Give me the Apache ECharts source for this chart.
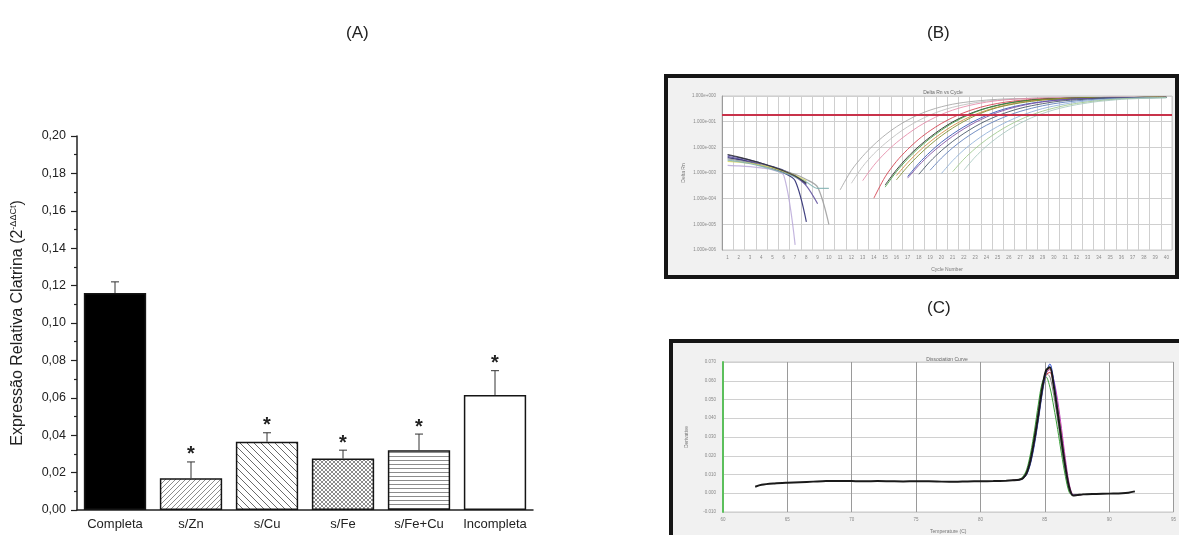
<!DOCTYPE html>
<html>
<head>
<meta charset="utf-8">
<title>Expressão Relativa Clatrina</title>
<script src="https://cdn.jsdelivr.net/npm/echarts@6/dist/echarts.min.js"></script>
<style>
  html, body { margin: 0; padding: 0; background: #fff; }
  #chart { width: 1179px; height: 535px; }
</style>
</head>
<body>
<div id="chart"></div>
<script>
// ---------- (A) relative clathrin expression ----------
const categories = ['Completa', 's/Zn', 's/Cu', 's/Fe', 's/Fe+Cu', 'Incompleta'];
const meanExpression = [0.116, 0.017, 0.0365, 0.0275, 0.032, 0.0615];
const sdExpression = [0.006, 0.0087, 0.0048, 0.0045, 0.0086, 0.013];
const significant = [false, true, true, true, true, true];

// ---------- (B) amplification plot: log10(Delta Rn) per cycle ----------
const cycleLabels = ['1','2','3','4','5','6','7','8','9','10','11','12','13','14','15','16','17','18','19','20',
  '21','22','23','24','25','26','27','28','29','30','31','32','33','34','35','36','37','38','39','40'];
const thresholdLog = -0.74;
const ampStartCycle = [11, 12, 13, 14, 15, 15, 16, 16, 17, 17, 18, 19, 20, 21, 22];
const ampLogDeltaRn = [
  [-3.66,-2.90,-2.35,-1.90,-1.52,-1.20,-0.94,-0.72,-0.55,-0.42,-0.32,-0.25,-0.20,-0.16,-0.13,-0.11,-0.10,-0.09,-0.08,-0.07,-0.07,-0.06,-0.06,-0.06,-0.05,-0.05,-0.05,-0.05,-0.05,-0.05],
  [-3.40,-2.75,-2.25,-1.85,-1.50,-1.20,-0.95,-0.74,-0.57,-0.44,-0.34,-0.26,-0.20,-0.16,-0.13,-0.11,-0.09,-0.08,-0.07,-0.07,-0.06,-0.06,-0.06,-0.05,-0.05,-0.05,-0.05,-0.05,-0.05],
  [-3.30,-2.70,-2.22,-1.82,-1.48,-1.18,-0.93,-0.72,-0.55,-0.42,-0.32,-0.24,-0.18,-0.14,-0.11,-0.09,-0.08,-0.07,-0.07,-0.06,-0.06,-0.06,-0.05,-0.05,-0.05,-0.05,-0.05,-0.05],
  [-3.98,-3.15,-2.55,-2.08,-1.68,-1.35,-1.07,-0.84,-0.65,-0.50,-0.38,-0.29,-0.22,-0.17,-0.14,-0.11,-0.10,-0.09,-0.08,-0.07,-0.07,-0.06,-0.06,-0.06,-0.05,-0.05,-0.05],
  [-3.47,-2.88,-2.38,-1.96,-1.60,-1.28,-1.01,-0.79,-0.61,-0.47,-0.36,-0.27,-0.21,-0.16,-0.13,-0.11,-0.09,-0.08,-0.07,-0.07,-0.06,-0.06,-0.06,-0.05,-0.05,-0.05],
  [-3.55,-2.95,-2.45,-2.02,-1.65,-1.33,-1.05,-0.82,-0.63,-0.48,-0.37,-0.28,-0.21,-0.16,-0.13,-0.11,-0.09,-0.08,-0.07,-0.07,-0.06,-0.06,-0.06,-0.05,-0.05,-0.05],
  [-3.10,-2.60,-2.16,-1.78,-1.45,-1.16,-0.92,-0.72,-0.56,-0.43,-0.33,-0.25,-0.19,-0.15,-0.12,-0.10,-0.09,-0.08,-0.07,-0.07,-0.06,-0.06,-0.06,-0.05,-0.05],
  [-3.27,-2.75,-2.30,-1.90,-1.55,-1.25,-0.99,-0.77,-0.59,-0.45,-0.35,-0.27,-0.21,-0.16,-0.13,-0.11,-0.09,-0.08,-0.07,-0.07,-0.06,-0.06,-0.06,-0.05,-0.05],
  [-3.14,-2.62,-2.18,-1.80,-1.48,-1.20,-0.96,-0.76,-0.59,-0.46,-0.36,-0.28,-0.22,-0.17,-0.14,-0.11,-0.10,-0.08,-0.07,-0.07,-0.06,-0.06,-0.06,-0.05],
  [-3.20,-2.70,-2.27,-1.90,-1.57,-1.28,-1.03,-0.82,-0.64,-0.50,-0.39,-0.30,-0.23,-0.18,-0.14,-0.12,-0.10,-0.09,-0.08,-0.07,-0.06,-0.06,-0.06,-0.05],
  [-3.05,-2.55,-2.13,-1.77,-1.46,-1.19,-0.96,-0.77,-0.61,-0.48,-0.38,-0.30,-0.23,-0.18,-0.15,-0.12,-0.10,-0.09,-0.08,-0.07,-0.06,-0.06,-0.06],
  [-2.89,-2.42,-2.02,-1.68,-1.39,-1.14,-0.93,-0.75,-0.60,-0.48,-0.38,-0.30,-0.24,-0.19,-0.15,-0.12,-0.10,-0.09,-0.08,-0.07,-0.06,-0.06],
  [-3.02,-2.52,-2.10,-1.75,-1.45,-1.19,-0.97,-0.78,-0.62,-0.49,-0.39,-0.31,-0.24,-0.19,-0.15,-0.12,-0.10,-0.09,-0.08,-0.07,-0.06],
  [-2.95,-2.46,-2.05,-1.70,-1.40,-1.14,-0.92,-0.74,-0.59,-0.47,-0.37,-0.29,-0.23,-0.18,-0.14,-0.11,-0.09,-0.08,-0.07,-0.06],
  [-2.89,-2.38,-1.96,-1.61,-1.31,-1.06,-0.85,-0.68,-0.54,-0.43,-0.34,-0.27,-0.21,-0.17,-0.13,-0.11,-0.09,-0.08,-0.07]
];
// early-cycle background signal, from cycle 1
const baselineLogDeltaRn = [
  [-2.30,-2.40,-2.50,-2.62,-2.75,-2.90,-3.10,-3.45],
  [-2.35,-2.45,-2.55,-2.65,-2.78,-2.95,-3.15,-3.50,-4.20],
  [-2.40,-2.48,-2.58,-2.70,-2.82,-3.00,-3.30,-4.90],
  [-2.45,-2.52,-2.60,-2.70,-2.80,-2.92,-3.05,-3.25,-3.55,-5.00],
  [-2.70,-2.72,-2.75,-2.80,-2.88,-3.10,-5.80],
  [-2.55,-2.58,-2.62,-2.70,-2.80,-2.95,-3.10,-3.30],
  [-2.50,-2.56,-2.64,-2.74,-2.86,-3.00,-3.15,-3.35,-3.60,-3.60],
  [-2.28,-2.38,-2.50,-2.62,-2.76,-2.92,-3.12,-3.40]
];

// ---------- (C) dissociation curve: derivative vs temperature ----------
const meltTemp = [62.5,63,64,65,66,67,68,69,70,71,72,73,74,75,76,77,78,79,80,81,82,82.5,
  83,83.3,83.6,83.9,84.2,84.5,84.8,85.1,85.4,85.7,86,86.3,86.6,86.9,87.2,87.5,
  88,89,90,91,91.5,92];
const meltDerivMain = [0.0035,0.0045,0.0052,0.0056,0.0059,0.0062,0.0065,0.0066,0.0065,0.0064,0.0065,0.0064,0.0063,0.0064,0.0064,0.0062,0.0061,0.0063,0.0064,0.0065,0.0067,0.0069,
  0.0072,0.0080,0.0110,0.0180,0.0290,0.0420,0.0560,0.0655,0.0672,0.0570,0.0430,0.0280,0.0140,0.0030,-0.0012,-0.0010,
  -0.0006,-0.0004,-0.0002,0.0000,0.0003,0.0010];
const meltPeakTemp = [82.5,83,83.3,83.6,83.9,84.2,84.5,84.8,85.1,85.4,85.7,86,86.3,86.6,86.9,87.2,87.5,88];
const meltPeakDeriv = [
  [0.0069,0.0074,0.0085,0.0120,0.0200,0.0315,0.0450,0.0575,0.0640,0.0620,0.0520,0.0390,0.0245,0.0110,0.0015,-0.0012,-0.0009,-0.0006],
  [0.0069,0.0073,0.0088,0.0128,0.0215,0.0335,0.0475,0.0590,0.0620,0.0565,0.0460,0.0340,0.0210,0.0090,0.0005,-0.0012,-0.0009,-0.0006],
  [0.0069,0.0072,0.0080,0.0108,0.0175,0.0282,0.0410,0.0548,0.0630,0.0645,0.0575,0.0455,0.0305,0.0155,0.0035,-0.0011,-0.0009,-0.0006],
  [0.0069,0.0072,0.0078,0.0102,0.0165,0.0268,0.0398,0.0538,0.0635,0.0665,0.0590,0.0470,0.0320,0.0165,0.0040,-0.0010,-0.0009,-0.0006],
  [0.0069,0.0072,0.0079,0.0105,0.0170,0.0275,0.0405,0.0545,0.0640,0.0660,0.0605,0.0495,0.0345,0.0185,0.0050,-0.0008,-0.0010,-0.0006],
  [0.0069,0.0071,0.0077,0.0100,0.0160,0.0260,0.0390,0.0530,0.0640,0.0690,0.0600,0.0450,0.0290,0.0140,0.0030,-0.0010,-0.0009,-0.0006]
];

// ---------- styles ----------
const FONT = '"Liberation Sans", Arial, sans-serif';
const ampColors = ['#a4a4a4','#bdbdbd','#e58aa8','#d23b4a','#1e1e1e','#3a9a3a','#d08a3a','#7a8a2a',
  '#3050b0','#7a4aa0','#405060','#5a7ab8','#8fb0d8','#9cc88c','#a8c8c0'];
const baseColors = ['#2f2f80','#5a4a9a','#20206a','#9a9a9a','#b8a8d8','#d8d860','#80b0b0','#333333'];
const meltPeakColors = ['#888888','#3aa03a','#d03040','#e0a020','#c040c0','#3050d0'];

// hatch fills for the bars
function hatch(kind) {
  const c = document.createElement('canvas');
  const s = kind === 'cu' ? 7 : (kind === 'zn' ? 5 : 4);
  c.width = s; c.height = s;
  const g = c.getContext('2d');
  g.fillStyle = '#fff'; g.fillRect(0, 0, s, s);
  g.strokeStyle = kind === 'cu' ? '#6a6a6a' : '#8c8c8c';
  g.lineWidth = 1;
  g.beginPath();
  if (kind === 'zn') {            // "/" lines
    g.moveTo(0, s); g.lineTo(s, 0);
    g.moveTo(-1, 1); g.lineTo(1, -1);
    g.moveTo(s - 1, s + 1); g.lineTo(s + 1, s - 1);
  } else if (kind === 'cu') {     // "\" lines
    g.moveTo(0, 0); g.lineTo(s, s);
    g.moveTo(s - 1, -1); g.lineTo(s + 1, 1);
    g.moveTo(-1, s - 1); g.lineTo(1, s + 1);
  } else if (kind === 'fe') {     // cross-hatch
    g.moveTo(0, 0); g.lineTo(s, s);
    g.moveTo(0, s); g.lineTo(s, 0);
  } else if (kind === 'fecu') {   // horizontal lines
    g.moveTo(0, 0.5); g.lineTo(s, 0.5);
  }
  g.stroke();
  return { image: c, repeat: 'repeat' };
}
const barFills = ['#000', hatch('zn'), hatch('cu'), hatch('fe'), hatch('fecu'), '#fff'];

function expLabel(v) {
  const n = Math.round(v);
  return '1.000e' + (n < 0 ? '-' : '+') + String(Math.abs(n)).padStart(3, '0');
}

// ---------- series ----------
const series = [];

series.push({
  type: 'bar', xAxisIndex: 0, yAxisIndex: 0,
  barCategoryGap: '18%',
  data: meanExpression.map((v, i) => ({
    value: v,
    itemStyle: { color: barFills[i], borderColor: '#151515', borderWidth: 1.5 }
  })),
  z: 2
});

series.push({
  type: 'custom', xAxisIndex: 0, yAxisIndex: 0, z: 3,
  data: categories.map((c, i) => [i, meanExpression[i], sdExpression[i], significant[i] ? 1 : 0]),
  renderItem: function (params, api) {
    const i = api.value(0), m = api.value(1), e = api.value(2), sig = api.value(3);
    const p0 = api.coord([i, m]);
    const p1 = api.coord([i, m + e]);
    const ls = { stroke: '#333', lineWidth: 1 };
    const children = [
      { type: 'line', shape: { x1: p0[0], y1: p0[1], x2: p1[0], y2: p1[1] }, style: ls },
      { type: 'line', shape: { x1: p1[0] - 4, y1: p1[1], x2: p1[0] + 4, y2: p1[1] }, style: ls }
    ];
    if (sig) {
      children.push({
        type: 'text',
        style: { text: '*', x: p1[0], y: p1[1] - 17, textAlign: 'center', textVerticalAlign: 'top',
                 font: 'bold 20px ' + FONT, fill: '#222' }
      });
    }
    return { type: 'group', children: children };
  }
});

// (B) curves
baselineLogDeltaRn.forEach((vals, k) => {
  series.push({
    type: 'line', xAxisIndex: 2, yAxisIndex: 1, showSymbol: false, smooth: 0.3,
    data: vals.map((v, j) => [cycleLabels[j], v]),
    lineStyle: { color: baseColors[k], width: 1.2, opacity: 0.85 },
    silent: true
  });
});
ampLogDeltaRn.forEach((vals, k) => {
  const s = {
    type: 'line', xAxisIndex: 2, yAxisIndex: 1, showSymbol: false, smooth: 0.3,
    data: vals.map((v, j) => [cycleLabels[ampStartCycle[k] - 1 + j], v]).filter(d => d[0] !== undefined),
    lineStyle: { color: ampColors[k], width: 1, opacity: 0.85 },
    silent: true
  };
  if (k === 0) {
    s.markLine = {
      symbol: 'none', silent: true, label: { show: false },
      lineStyle: { color: '#c8324a', width: 2, type: 'solid' },
      data: [{ yAxis: thresholdLog }]
    };
  }
  series.push(s);
});

// (C) curves
meltPeakDeriv.forEach((vals, k) => {
  series.push({
    type: 'line', xAxisIndex: 3, yAxisIndex: 2, showSymbol: false, smooth: 0.3,
    data: vals.map((v, j) => [meltPeakTemp[j], v]),
    lineStyle: { color: meltPeakColors[k], width: 1 },
    silent: true
  });
});
series.push({
  type: 'line', xAxisIndex: 3, yAxisIndex: 2, showSymbol: false, smooth: 0.3,
  data: meltDerivMain.map((v, j) => [meltTemp[j], v]),
  lineStyle: { color: '#1a1a1a', width: 2 },
  silent: true
});

const tinyLabel = { fontSize: 4.5, color: '#888', fontFamily: FONT };
const panelTitle = { fontSize: 17, fontWeight: 'normal', color: '#222', fontFamily: FONT };

const option = {
  animation: false,
  backgroundColor: '#fff',
  textStyle: { fontFamily: FONT },
  title: [
    { text: '(A)', left: 341, top: 20, textStyle: panelTitle },
    { text: '(B)', left: 922, top: 20, textStyle: panelTitle },
    { text: '(C)', left: 922, top: 295, textStyle: panelTitle },
    { text: 'Delta Rn vs Cycle', left: 938, top: 85, textAlign: 'center', textStyle: { fontSize: 5, fontWeight: 'normal', color: '#666', fontFamily: FONT } },
    { text: 'Dissociation Curve', left: 942, top: 352, textAlign: 'center', textStyle: { fontSize: 5, fontWeight: 'normal', color: '#666', fontFamily: FONT } }
  ],
  graphic: [
    { type: 'rect', z: -10, shape: { x: 666, y: 76, width: 511, height: 201 }, style: { fill: '#f1f1f1', stroke: '#151515', lineWidth: 4 } },
    { type: 'rect', z: -10, shape: { x: 671, y: 341, width: 520, height: 220 }, style: { fill: '#f1f1f1', stroke: '#151515', lineWidth: 4 } }
  ],
  grid: [
    { left: 77, top: 136, width: 456, height: 374 },
    { left: 722, top: 96, width: 450, height: 154, show: true, backgroundColor: '#fff', borderColor: '#c8c8c8', borderWidth: 1 },
    { left: 723, top: 362, width: 452, height: 151, show: true, backgroundColor: '#fff', borderColor: '#c8c8c8', borderWidth: 1 }
  ],
  xAxis: [
    {
      type: 'category', gridIndex: 0, data: categories,
      axisLine: { lineStyle: { color: '#222', width: 1.5 } },
      axisTick: { alignWithLabel: true, length: 6, lineStyle: { color: '#222', width: 1.2 } },
      axisLabel: { color: '#222', fontSize: 13, margin: 8, fontFamily: FONT, interval: 0 },
      splitLine: { show: false }
    },
    {
      type: 'category', gridIndex: 0, data: categories, position: 'bottom',
      axisLine: { show: false },
      axisTick: { length: 3, lineStyle: { color: '#222', width: 1.2 } },
      axisLabel: { show: false }, splitLine: { show: false }
    },
    {
      type: 'category', gridIndex: 1, data: cycleLabels, boundaryGap: true,
      axisLine: { show: false }, axisTick: { show: false },
      axisLabel: Object.assign({ interval: 0, margin: 5 }, tinyLabel),
      splitLine: { show: true, interval: 0, lineStyle: { color: '#cfcfcf', width: 1 } },
      name: 'Cycle Number', nameLocation: 'middle', nameGap: 17,
      nameTextStyle: { fontSize: 5, color: '#777' }
    },
    {
      type: 'value', gridIndex: 2, min: 60, max: 95, interval: 5,
      axisLine: { show: false }, axisTick: { show: false },
      axisLabel: Object.assign({ margin: 5 }, tinyLabel),
      splitLine: { show: true, lineStyle: { color: '#9a9a9a', width: 1 } },
      name: 'Temperature (C)', nameLocation: 'middle', nameGap: 17,
      nameTextStyle: { fontSize: 5, color: '#777' }
    }
  ],
  yAxis: [
    {
      type: 'value', gridIndex: 0, min: 0, max: 0.2, interval: 0.02,
      axisLine: { show: true, lineStyle: { color: '#222', width: 1.5 } },
      axisTick: { show: true, length: 6, lineStyle: { color: '#222', width: 1.2 } },
      minorTick: { show: true, splitNumber: 2, length: 3, lineStyle: { color: '#222', width: 1.2 } },
      axisLabel: { color: '#222', fontSize: 12.5, margin: 11, fontFamily: FONT,
        formatter: v => v.toFixed(2).replace('.', ',') },
      splitLine: { show: false },
      name: 'Expressão Relativa Clatrina (2{sup|-ΔΔCt})',
      nameLocation: 'middle', nameGap: 50,
      nameTextStyle: { color: '#222', fontSize: 16, fontFamily: FONT,
        rich: { sup: { fontSize: 9, verticalAlign: 'top', padding: [0, 0, 9, 0], color: '#222' } } }
    },
    {
      type: 'value', gridIndex: 1, min: -6, max: 0, interval: 1,
      axisLine: { show: true, lineStyle: { color: '#9a9a9a', width: 1 } },
      axisTick: { show: false },
      axisLabel: Object.assign({ margin: 6, formatter: expLabel }, tinyLabel),
      splitLine: { show: true, lineStyle: { color: '#cfcfcf', width: 1 } },
      name: 'Delta Rn', nameLocation: 'middle', nameGap: 36,
      nameTextStyle: { fontSize: 5, color: '#777' }
    },
    {
      type: 'value', gridIndex: 2, min: -0.01, max: 0.07, interval: 0.01,
      axisLine: { show: true, lineStyle: { color: '#5cbf5c', width: 2 } },
      axisTick: { show: false },
      axisLabel: Object.assign({ margin: 7, formatter: v => v.toFixed(3) }, tinyLabel),
      splitLine: { show: true, lineStyle: { color: '#d0d0d0', width: 1 } },
      name: 'Derivative', nameLocation: 'middle', nameGap: 34,
      nameTextStyle: { fontSize: 5, color: '#777' }
    }
  ],
  series: series
};

const chart = echarts.init(document.getElementById('chart'), null, { renderer: 'canvas' });
chart.setOption(option);
</script>
</body>
</html>
